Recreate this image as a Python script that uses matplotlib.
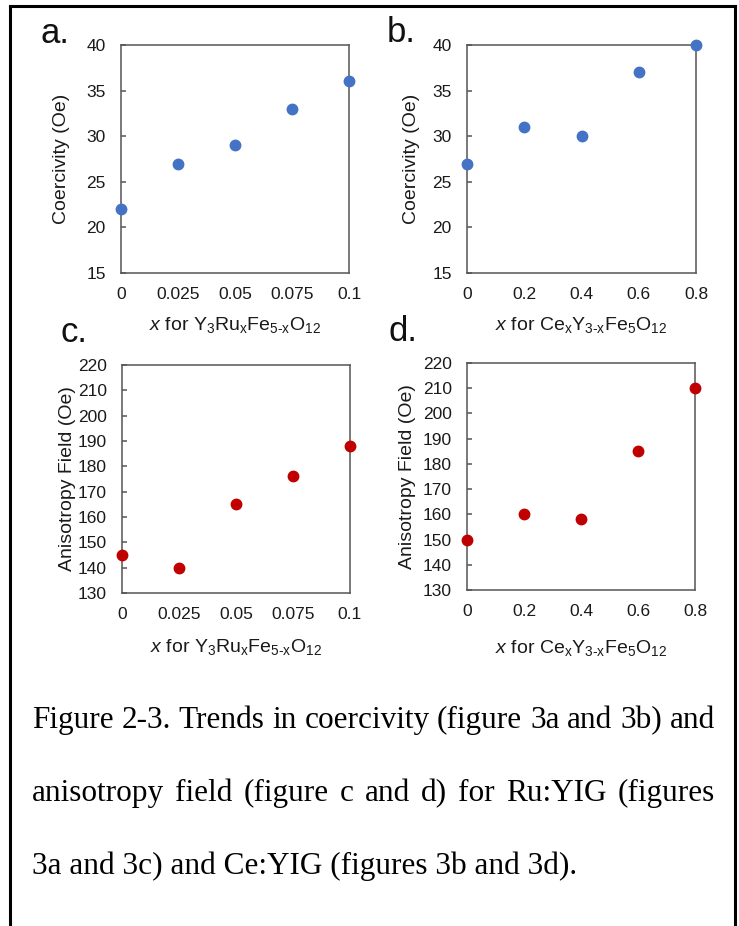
import matplotlib
matplotlib.use("Agg")
import matplotlib.pyplot as plt
from matplotlib.lines import Line2D

plt.rcParams["font.family"] = ["Liberation Sans", "DejaVu Sans"]
plt.rcParams["mathtext.fontset"] = "custom"
plt.rcParams["mathtext.rm"] = "Liberation Sans"
plt.rcParams["mathtext.it"] = "Liberation Sans:italic"

# Ru:YIG and Ce:YIG series
x_ru = [0, 0.025, 0.05, 0.075, 0.1]
x_ce = [0, 0.2, 0.4, 0.6, 0.8]
coer_ru = [22, 27, 29, 33, 36]
coer_ce = [27, 31, 30, 37, 40]
aniso_ru = [145, 140, 165, 176, 188]
aniso_ce = [150, 160, 158, 185, 210]

xt_ru = [0, 0.025, 0.05, 0.075, 0.1]
xt_ru_lbl = ["0", "0.025", "0.05", "0.075", "0.1"]
xt_ce = [0, 0.2, 0.4, 0.6, 0.8]
xt_ce_lbl = ["0", "0.2", "0.4", "0.6", "0.8"]
yt_coer = [15, 20, 25, 30, 35, 40]
yt_aniso = [130, 140, 150, 160, 170, 180, 190, 200, 210, 220]

lbl_ru = r"$\mathit{x}$ for Y$_{3}$Ru$_{\mathrm{x}}$Fe$_{\mathrm{5\text{-}x}}$O$_{12}$"
lbl_ce = r"$\mathit{x}$ for Ce$_{\mathrm{x}}$Y$_{\mathrm{3\text{-}x}}$Fe$_{5}$O$_{12}$"

caption = [
    "Figure 2-3. Trends in coercivity (figure 3a and 3b) and",
    "anisotropy field (figure c and d) for Ru:YIG (figures",
    "3a and 3c) and Ce:YIG (figures 3b and 3d).",
]

BLUE = "#4472C4"
RED = "#C00000"
W, H = 739, 926

fig = plt.figure(figsize=(W / 100, H / 100), dpi=100)


def px_axes(l, t, r, b):
    return fig.add_axes([l / W, 1 - b / H, (r - l) / W, (b - t) / H])


panels = [
    # (box, x, y, color, xticks, xticklabels, yticks, ylabel, xlabel, letter, letter pos, ylab x, xlab y)
    ((121, 45, 349, 273), x_ru, coer_ru, BLUE, xt_ru, xt_ru_lbl, yt_coer,
     "Coercivity (Oe)", lbl_ru, "a.", (41, 43), 62, 325),
    ((467, 45, 696, 273), x_ce, coer_ce, BLUE, xt_ce, xt_ce_lbl, yt_coer,
     "Coercivity (Oe)", lbl_ce, "b.", (387, 42), 411, 325),
    ((122, 365, 350, 593), x_ru, aniso_ru, RED, xt_ru, xt_ru_lbl, yt_aniso,
     "Anisotropy Field (Oe)", lbl_ru, "c.", (60, 342), 67, 647),
    ((467, 363, 695, 590), x_ce, aniso_ce, RED, xt_ce, xt_ce_lbl, yt_aniso,
     "Anisotropy Field (Oe)", lbl_ce, "d.", (389, 341), 408, 648),
]

for box, xs, ys, col, xt, xtl, yt, ylab, xlab, letter, lpos, ylx, xly in panels:
    l, t, r, b = box
    ax = px_axes(l, t, r, b)
    ax.plot(xs, ys, "o", color=col, ms=7.5, clip_on=False, zorder=5)
    ax.set_xlim(xt[0], xt[-1])
    ax.set_ylim(yt[0], yt[-1])
    ax.set_xticks(xt, xtl)
    ax.set_yticks(yt)
    ax.tick_params(labelsize=12.5, labelcolor="#1a1a1a")
    ax.tick_params(axis="x", length=0, pad=10)
    ax.tick_params(axis="y", direction="in", length=3.5, width=1.1,
                   color="#555555", pad=11)
    for s in ax.spines.values():
        s.set_color("#555555")
        s.set_linewidth(1.1)
    ax.set_ylabel(ylab, fontsize=14, color="#1a1a1a")
    ax.yaxis.label.set_va("center")
    ax.yaxis.set_label_coords((ylx - l) / (r - l), 0.5)
    ax.set_xlabel(xlab, fontsize=14, color="#1a1a1a")
    ax.xaxis.label.set_va("center")
    ax.xaxis.set_label_coords(0.5, (b - xly) / (b - t))
    fig.text(lpos[0] / W, 1 - lpos[1] / H, letter, fontsize=25,
             ha="left", va="baseline", color="#111111")

# outer frame (open at the bottom)
frame = dict(color="black", lw=2.2, solid_capstyle="projecting")
fig.add_artist(Line2D([10 / W, 10 / W], [0, 1 - 6 / H], **frame))
fig.add_artist(Line2D([10 / W, 735 / W], [1 - 6 / H, 1 - 6 / H], **frame))
fig.add_artist(Line2D([735 / W, 735 / W], [0, 1 - 6 / H], **frame))

# caption: size chosen so the first line fills the text width,
# second line justified, last line flush left
cap_base = [728, 801, 874]
cap_x0, cap_x1 = 32, 715
renderer = fig.canvas.get_renderer()
probe = fig.text(0, 0, caption[0], fontsize=20, family="Liberation Serif")
cap_size = 20 * (cap_x1 - cap_x0) / probe.get_window_extent(renderer).width
probe.remove()

for i, (line, y) in enumerate(zip(caption, cap_base)):
    if i == len(caption) - 1:
        fig.text(cap_x0 / W, 1 - y / H, line, fontsize=cap_size,
                 family="Liberation Serif", ha="left", va="baseline")
        continue
    words = line.split(" ")
    texts = [fig.text(0, 1 - y / H, w, fontsize=cap_size, family="Liberation Serif",
                      ha="left", va="baseline") for w in words]
    widths = [tx.get_window_extent(renderer).width for tx in texts]
    gap = (cap_x1 - cap_x0 - sum(widths)) / (len(words) - 1)
    xpos = cap_x0
    for tx, wd in zip(texts, widths):
        tx.set_x(xpos / W)
        xpos += wd + gap

fig.savefig("out.png", dpi=100)
